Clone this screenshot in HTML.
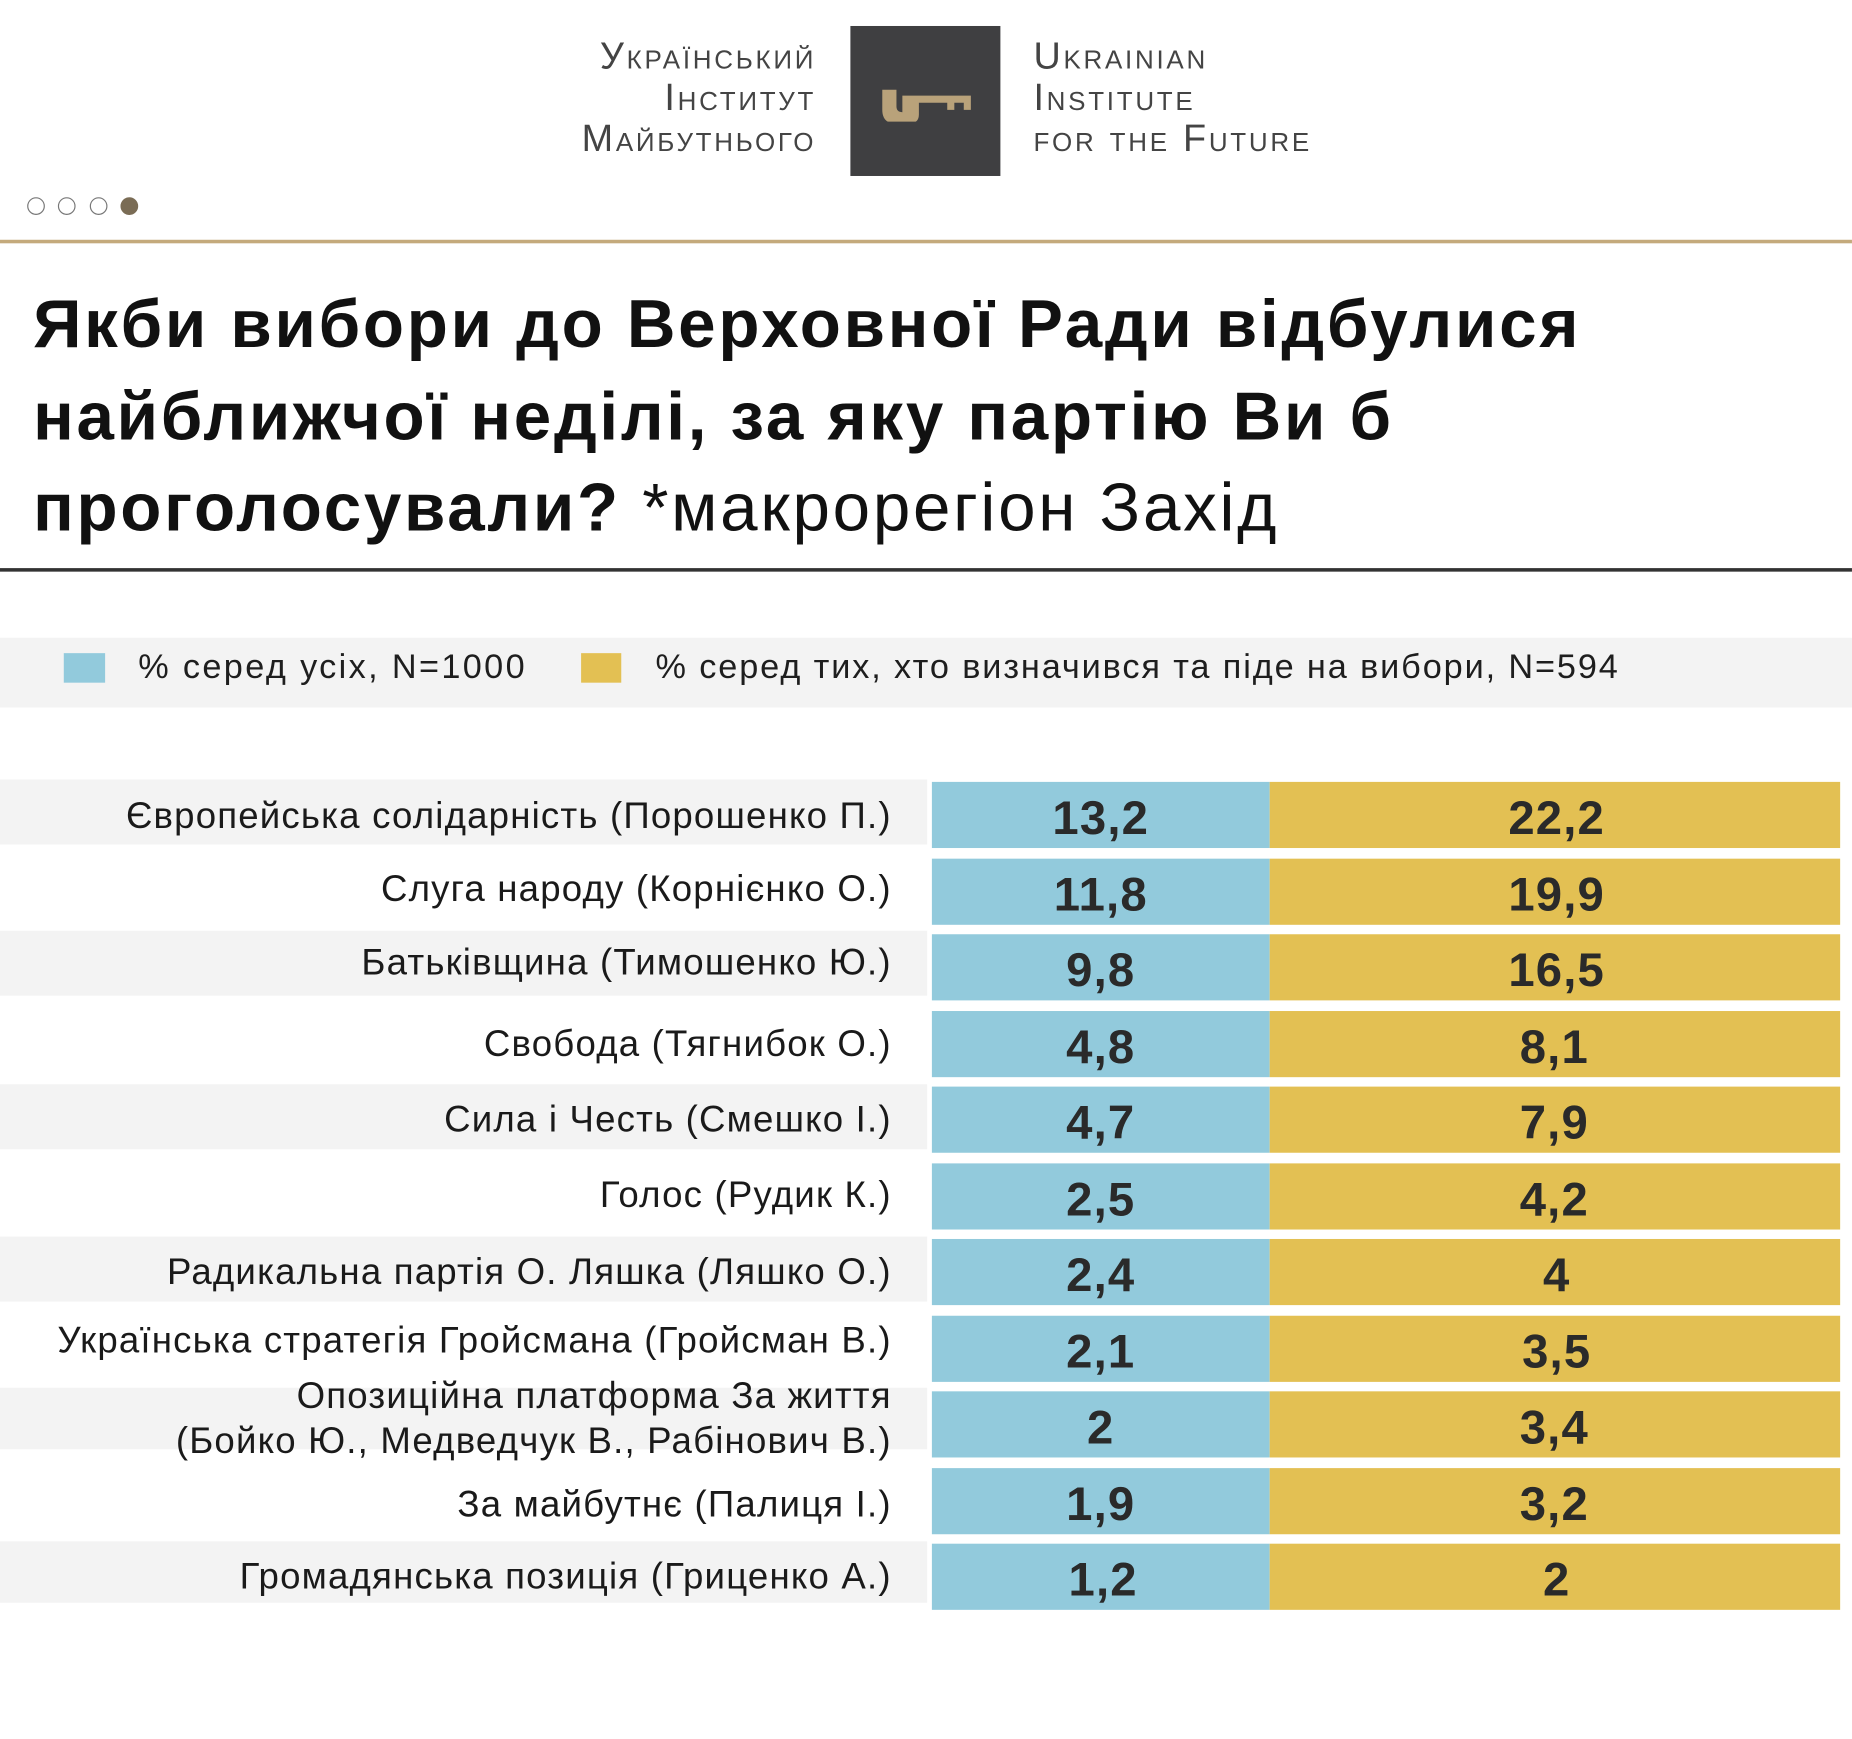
<!DOCTYPE html>
<html><head><meta charset="utf-8"><style>
html,body{margin:0;padding:0;background:#fff;}
body{width:1852px;height:1739px;overflow:hidden;position:relative;}
#c{position:absolute;left:0;top:0;width:1568px;height:1472px;transform:scale(1.1811);transform-origin:0 0;font-family:"Liberation Sans","DejaVu Sans",sans-serif;color:#1e1e1e;}
.a{position:absolute;}
.lt{position:absolute;font-size:32px;letter-spacing:2.3px;color:#444;font-variant:small-caps;line-height:35px;white-space:nowrap;}
.dot{position:absolute;top:167px;width:15px;height:15px;border-radius:50%;border:1px solid #777;box-sizing:border-box;}
.title{position:absolute;left:28px;font-size:57px;font-weight:bold;line-height:78px;white-space:nowrap;color:#111;letter-spacing:2.3px;}
.lab{position:absolute;right:813px;font-size:31px;letter-spacing:1px;white-space:nowrap;text-align:right;color:#1a1a1a;}
.gr{position:absolute;left:0;width:785px;background:#f3f3f3;}
.b{position:absolute;left:789px;width:286px;height:56px;background:#92cadc;}
.y{position:absolute;left:1075px;width:483px;height:56px;background:#e3c053;}
.n{position:absolute;font-size:40px;font-weight:bold;color:#2a2a2a;text-align:center;width:200px;letter-spacing:1px;}
</style></head><body><div id="c">
<div class="lt" style="right:877px;top:30px;text-align:right">Український<br>Інститут<br>Майбутнього</div>
<div class="a" style="left:720px;top:22px;width:127px;height:127px;background:#3f3f41"></div>
<svg class="a" style="left:744px;top:73px" width="82" height="30"><path d="M3 3 h12 v14 q0 5 5 5 h0 v-14 h58 v12 h-6 v-6 h-8 v6 h-6 v-6 h-24 v10 q0 8 -10 8 h-8 q-13 0 -13 -12 z" fill="#b9a27a"/></svg>
<div class="lt" style="left:875px;top:30px">Ukrainian<br>Institute<br>for the Future</div>
<div class="dot" style="left:23px"></div><div class="dot" style="left:49px"></div><div class="dot" style="left:76px"></div>
<div class="dot" style="left:102px;background:#7a6c55;border-color:#7a6c55"></div>
<div class="a" style="left:0;top:203px;width:1568px;height:3px;background:#c4aa7c"></div>
<div class="title" style="top:236px">Якби вибори до Верховної Ради відбулися</div>
<div class="title" style="top:314px">найближчої неділі, за яку партію Ви б</div>
<div class="title" style="top:391px">проголосували? <span style="font-weight:normal">*макрорегіон Захід</span></div>
<div class="a" style="left:0;top:481px;width:1568px;height:3px;background:#333"></div>
<div class="a" style="left:0;top:540px;width:1568px;height:59px;background:#f3f3f3"></div>
<div class="a" style="left:54px;top:553px;width:35px;height:25px;background:#92cadc"></div>
<div class="a" style="left:117px;top:549px;font-size:29px;letter-spacing:2px;white-space:nowrap">% серед усіх, N=1000</div>
<div class="a" style="left:492px;top:553px;width:34px;height:25px;background:#e3c053"></div>
<div class="a" style="left:555px;top:549px;font-size:29px;letter-spacing:1.6px;white-space:nowrap">% серед тих, хто визначився та піде на вибори, N=594</div>

<div class="gr" style="top:660px;height:55px"></div>
<div class="gr" style="top:788px;height:55px"></div>
<div class="gr" style="top:918px;height:55px"></div>
<div class="gr" style="top:1047px;height:55px"></div>
<div class="gr" style="top:1175px;height:52px"></div>
<div class="gr" style="top:1305px;height:52px"></div>

<div class="b" style="top:662px"></div><div class="y" style="top:662px"></div>
<div class="b" style="top:727px"></div><div class="y" style="top:727px"></div>
<div class="b" style="top:791px"></div><div class="y" style="top:791px"></div>
<div class="b" style="top:856px"></div><div class="y" style="top:856px"></div>
<div class="b" style="top:920px"></div><div class="y" style="top:920px"></div>
<div class="b" style="top:985px"></div><div class="y" style="top:985px"></div>
<div class="b" style="top:1049px"></div><div class="y" style="top:1049px"></div>
<div class="b" style="top:1114px"></div><div class="y" style="top:1114px"></div>
<div class="b" style="top:1178px"></div><div class="y" style="top:1178px"></div>
<div class="b" style="top:1243px"></div><div class="y" style="top:1243px"></div>
<div class="b" style="top:1307px"></div><div class="y" style="top:1307px"></div>

<div class="lab" style="top:673px">Європейська солідарність (Порошенко П.)</div>
<div class="lab" style="top:735px">Слуга народу (Корнієнко О.)</div>
<div class="lab" style="top:797px">Батьківщина (Тимошенко Ю.)</div>
<div class="lab" style="top:866px">Свобода (Тягнибок О.)</div>
<div class="lab" style="top:930px">Сила і Честь (Смешко І.)</div>
<div class="lab" style="top:994px">Голос (Рудик К.)</div>
<div class="lab" style="top:1059px">Радикальна партія О. Ляшка (Ляшко О.)</div>
<div class="lab" style="top:1117px">Українська стратегія Гройсмана (Гройсман В.)</div>
<div class="lab" style="top:1163px;line-height:38px">Опозиційна платформа За життя<br>(Бойко Ю., Медведчук В., Рабінович В.)</div>
<div class="lab" style="top:1256px">За майбутнє (Палиця І.)</div>
<div class="lab" style="top:1317px">Громадянська позиція (Гриценко А.)</div>

<div class="n" style="left:832px;top:671px">13,2</div><div class="n" style="left:1218px;top:671px">22,2</div>
<div class="n" style="left:832px;top:736px">11,8</div><div class="n" style="left:1218px;top:736px">19,9</div>
<div class="n" style="left:832px;top:800px">9,8</div><div class="n" style="left:1218px;top:800px">16,5</div>
<div class="n" style="left:832px;top:865px">4,8</div><div class="n" style="left:1216px;top:865px">8,1</div>
<div class="n" style="left:832px;top:929px">4,7</div><div class="n" style="left:1216px;top:929px">7,9</div>
<div class="n" style="left:832px;top:994px">2,5</div><div class="n" style="left:1216px;top:994px">4,2</div>
<div class="n" style="left:832px;top:1058px">2,4</div><div class="n" style="left:1218px;top:1058px">4</div>
<div class="n" style="left:832px;top:1123px">2,1</div><div class="n" style="left:1218px;top:1123px">3,5</div>
<div class="n" style="left:832px;top:1187px">2</div><div class="n" style="left:1216px;top:1187px">3,4</div>
<div class="n" style="left:832px;top:1252px">1,9</div><div class="n" style="left:1216px;top:1252px">3,2</div>
<div class="n" style="left:834px;top:1316px">1,2</div><div class="n" style="left:1218px;top:1316px">2</div>
</div></body></html>
